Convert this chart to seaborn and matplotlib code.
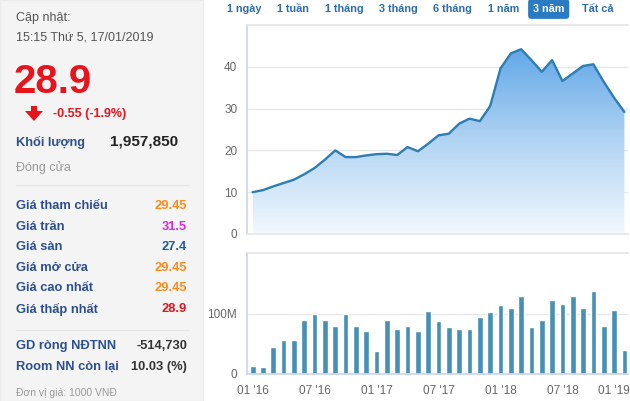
import numpy as np
import pandas as pd
import matplotlib
matplotlib.use("Agg")
import matplotlib.pyplot as plt
import matplotlib.transforms as mtransforms
from matplotlib.patches import Rectangle, Polygon
from matplotlib.colors import LinearSegmentedColormap
from matplotlib.lines import Line2D
import seaborn as sns

# 1. Data (monthly, Jan 2016 - Jan 2019)
months = [d.strftime("%m '%y") for d in pd.date_range("2016-01-01", periods=37, freq="MS")]
price = [10.0, 10.5, 11.4, 12.2, 13.0, 14.3, 15.8, 17.8, 20.0, 18.4, 18.4, 18.8, 19.1,
         19.2, 18.9, 20.8, 19.8, 21.6, 23.6, 24.0, 26.4, 27.6, 27.0, 30.6, 39.6, 43.2,
         44.2, 41.6, 38.8, 41.6, 36.6, 38.4, 40.2, 40.6, 36.4, 32.6, 29.2]
volume_m = [12.6, 11, 45, 56, 56, 88.5, 100, 90, 79, 100, 79, 71, 38, 90, 75, 80, 71,
            104, 87, 77, 75, 75, 95, 102, 114, 109, 129, 77, 88.5, 122, 116, 129, 109,
            138, 80, 106, 39]
tick_labels = ["01 '16", "07 '16", "01 '17", "07 '17", "01 '18", "07 '18", "01 '19"]
price_ticks = [0, 10, 20, 30, 40]
volume_ticks = [0, 100]
volume_tick_labels = ["0", "100M"]

range_buttons = ["1 ngày", "1 tuần", "1 tháng", "3 tháng", "6 tháng", "1 năm", "3 năm", "Tất cả"]
active_button = "3 năm"

info_labels = ["Giá tham chiếu", "Giá trần", "Giá sàn", "Giá mở cửa", "Giá cao nhất", "Giá thấp nhất"]
info_values = ["29.45", "31.5", "27.4", "29.45", "29.45", "28.9"]
info_colors = ["#ff8a1c", "#e326e0", "#1f5c99", "#ff8a1c", "#ff8a1c", "#e8141c"]
foreign_labels = ["GD ròng NĐTNN", "Room NN còn lại"]
foreign_values = ["-514,730", "10.03 (%)"]

W, H = 630, 401
FONT = ["Liberation Sans", "DejaVu Sans"]
LABEL_BLUE = "#2b4f8f"
GRAY = "#666666"


def fx(x):
    return x / W


def fy(y):
    return 1 - y / H


sns.set_theme(style="white")
plt.rcParams["font.family"] = FONT

fig = plt.figure(figsize=(W / 100, H / 100), dpi=100)
fig.patch.set_facecolor("white")

# 2. Left info panel
fig.patches.append(Rectangle((0, 0), fx(203), 1, transform=fig.transFigure,
                             facecolor="#f4f4f4", edgecolor="#ebebeb", lw=1, zorder=0))
fig.text(fx(16), fy(18), "Cập nhật:", fontsize=9, color="#555555", va="center")
fig.text(fx(16), fy(38), "15:15 Thứ 5, 17/01/2019", fontsize=9, color="#555555", va="center")
fig.text(fx(14), fy(82), "28.9", fontsize=29, color="#e8141c", fontweight="bold", va="center")
arrow = Polygon([(fx(31), fy(106)), (fx(37), fy(106)), (fx(37), fy(111)), (fx(43), fy(111)),
                 (fx(34), fy(121)), (fx(25), fy(111)), (fx(31), fy(111))],
                closed=True, transform=fig.transFigure, facecolor="#e8141c", edgecolor="none")
fig.patches.append(arrow)
fig.text(fx(53), fy(114), "-0.55 (-1.9%)", fontsize=9, color="#e8141c", fontweight="bold", va="center")
fig.text(fx(16), fy(142), "Khối lượng", fontsize=9.2, color=LABEL_BLUE, fontweight="bold", va="center")
fig.text(fx(178), fy(141), "1,957,850", fontsize=11, color="#222222", fontweight="bold",
         va="center", ha="right")
fig.text(fx(16), fy(168), "Đóng cửa", fontsize=9, color="#999999", va="center")
fig.lines.append(Line2D([fx(16), fx(188)], [fy(185), fy(185)], transform=fig.transFigure,
                        color="#e6e6e6", lw=1))
for i, (lab, val, col) in enumerate(zip(info_labels, info_values, info_colors)):
    y = 206 + i * 20.6
    fig.text(fx(16), fy(y), lab, fontsize=9.3, color=LABEL_BLUE, fontweight="bold", va="center")
    fig.text(fx(187), fy(y), val, fontsize=9.3, color=col, fontweight="bold", va="center", ha="right")
fig.lines.append(Line2D([fx(16), fx(188)], [fy(330), fy(330)], transform=fig.transFigure,
                        color="#e6e6e6", lw=1))
for i, (lab, val) in enumerate(zip(foreign_labels, foreign_values)):
    y = 346 + i * 21
    fig.text(fx(16), fy(y), lab, fontsize=9.3, color=LABEL_BLUE, fontweight="bold", va="center")
    fig.text(fx(187), fy(y), val, fontsize=9.3, color="#333333", fontweight="bold", va="center", ha="right")
fig.text(fx(16), fy(393), "Đơn vị giá: 1000 VNĐ", fontsize=7.5, color="#999999", va="center")

# 3. Range buttons
button_x = [227, 277, 325, 379, 433, 488, 533, 582]
for bx, name in zip(button_x, range_buttons):
    if name == active_button:
        fig.text(fx(bx), fy(9), name, fontsize=7.8, color="white", fontweight="bold", va="center",
                 bbox=dict(boxstyle="round,pad=0.45,rounding_size=0.3", fc="#2b7bc2", ec="none"))
    else:
        fig.text(fx(bx), fy(9), name, fontsize=7.8, color="#2b6cb3", fontweight="bold", va="center")

# 4. Price area chart
x = np.arange(len(price))
ax1 = fig.add_axes([fx(247), fy(234), fx(381), 209 / H])
fill = ax1.fill_between(x, price, 0, color="none")
cmap = LinearSegmentedColormap.from_list("area", ["#f2f8fe", "#b2d4f3", "#62a8e8"])
grad = np.linspace(1, 0, 256).reshape(-1, 1)
img = ax1.imshow(grad, cmap=cmap, extent=[0, len(price) - 1, 0, max(price)],
                 aspect="auto", origin="upper", zorder=1)
img.set_clip_path(fill.get_paths()[0], transform=ax1.transData)
sns.lineplot(x=x, y=price, ax=ax1, color="#2e7db3", lw=1.7, zorder=3)
ax1.set_xlim(-0.55, 36.35)
ax1.set_ylim(0, 50)
ax1.set_yticks(price_ticks)
ax1.set_yticklabels([str(t) for t in price_ticks])
ax1.set_xticks([])
for t in price_ticks[1:]:
    ax1.axhline(t, color="#e6e6e6", lw=1, zorder=0)
ax1.tick_params(axis="y", length=0, pad=7, labelsize=8.5, labelcolor=GRAY)
for s in ["top", "bottom"]:
    ax1.spines[s].set_color("#e6e6e6")
ax1.spines["left"].set_color("#ccd6eb")
ax1.spines["right"].set_visible(False)
ax1.set_xlabel("")
ax1.set_ylabel("")

# 5. Volume bars
ax2 = fig.add_axes([fx(247), fy(374), fx(381), 121 / H])
sns.barplot(x=months, y=volume_m, color="#4690b6", saturation=1, width=0.55, ax=ax2, zorder=2)
ax2.set_xlim(-0.55, 36.35)
ax2.set_ylim(0, 200)
ax2.set_xticks([months.index(t) for t in tick_labels])
ax2.set_xticklabels(tick_labels)
ax2.set_yticks(volume_ticks)
ax2.set_yticklabels(volume_tick_labels)
ax2.axhline(100, color="#e6e6e6", lw=1, zorder=0)
ax2.tick_params(axis="y", length=0, pad=7, labelsize=8.5, labelcolor=GRAY)
ax2.tick_params(axis="x", length=6, width=1, color="#ccd6eb", pad=2, labelsize=8.5, labelcolor=GRAY)
# last label is pushed inside the chart like the original widget does
last = ax2.get_xticklabels()[-1]
last.set_ha("right")
last.set_transform(last.get_transform() + mtransforms.ScaledTranslation(5 / 100, 0, fig.dpi_scale_trans))
ax2.spines["top"].set_color("#e6e6e6")
ax2.spines["bottom"].set_color("#ccd6eb")
ax2.spines["left"].set_color("#ccd6eb")
ax2.spines["right"].set_visible(False)
ax2.set_xlabel("")
ax2.set_ylabel("")

fig.savefig("out.png", dpi=100)
